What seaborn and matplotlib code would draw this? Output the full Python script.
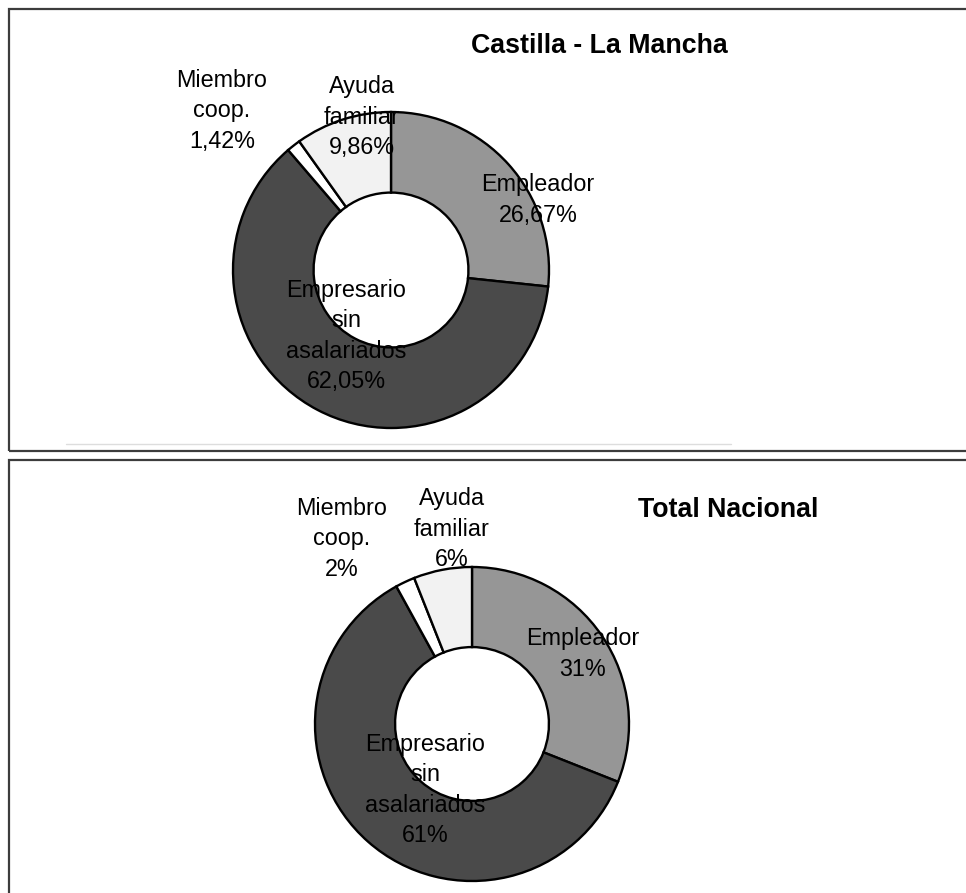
import numpy as np
import seaborn as sns
import matplotlib.pyplot as plt
from matplotlib.patches import Rectangle
from matplotlib.lines import Line2D

# data
categories = ["Empleador", "Empresario\nsin\nasalariados", "Miembro\ncoop.", "Ayuda\nfamiliar"]
clm_values = [26.67, 62.05, 1.42, 9.86]
nac_values = [31, 61, 2, 6]
titles = ["Castilla - La Mancha", "Total Nacional"]

sns.set_theme(style="white")
plt.rcParams['font.family'] = ['Liberation Sans', 'DejaVu Sans']
plt.rcParams['text.color'] = 'black'

slice_colors = ["#969696", "#4a4a4a", "#ffffff", "#f2f2f2"]

W, H = 966, 893
fig = plt.figure(figsize=(W / 100, H / 100), dpi=100)


def fx(x):
    return x / W


def fy(y):
    return 1 - y / H


# panel frames
frame_kw = dict(transform=fig.transFigure, fill=False, edgecolor="#3c3c3c", linewidth=1.6)
fig.patches.append(Rectangle((fx(9), fy(451)), fx(980) - fx(9), fy(9) - fy(451), **frame_kw))
fig.patches.append(Rectangle((fx(9), fy(905)), fx(980) - fx(9), fy(460) - fy(905), **frame_kw))
fig.lines.append(Line2D([fx(66), fx(731)], [fy(444), fy(444)], transform=fig.transFigure,
                        color="#dddddd", linewidth=1))


def draw_panel(top, bottom, center, R, values, fmt, title, title_pos, label_pos):
    ax = fig.add_axes([0, fy(bottom), 1, fy(top) - fy(bottom)])
    ax.pie(values, colors=slice_colors, startangle=90, counterclock=False,
           radius=1, wedgeprops=dict(width=0.51, edgecolor="black", linewidth=1.7))
    cx, cy = center
    ax.set_aspect("auto")
    ax.set_xlim((0 - cx) / R, (W - cx) / R)
    ax.set_ylim((cy - bottom) / R, (cy - top) / R)
    ax.axis("off")

    def to_data(p):
        return ((p[0] - cx) / R, (cy - p[1]) / R)

    tx, ty = to_data(title_pos)
    ax.text(tx, ty, title, fontsize=19.3, fontweight="bold", ha="center", va="center",
            color="black")
    for cat, val, pos in zip(categories, values, label_pos):
        lx, ly = to_data(pos)
        ax.text(lx, ly, f"{cat}\n{fmt(val)}", fontsize=16.8, ha="center", va="center",
                linespacing=1.4, color="black")


draw_panel(0, 455, (391, 270), 158, clm_values,
           lambda v: f"{v:.2f}".replace(".", ",") + "%",
           titles[0], (599, 46),
           [(538, 200), (346, 336), (222, 111), (362, 117)])

draw_panel(455, 893, (472, 724), 157, nac_values,
           lambda v: f"{v:.0f}%",
           titles[1], (728, 510),
           [(583, 654), (425, 790), (342, 539), (452, 529)])

fig.savefig("out.png", dpi=100)
